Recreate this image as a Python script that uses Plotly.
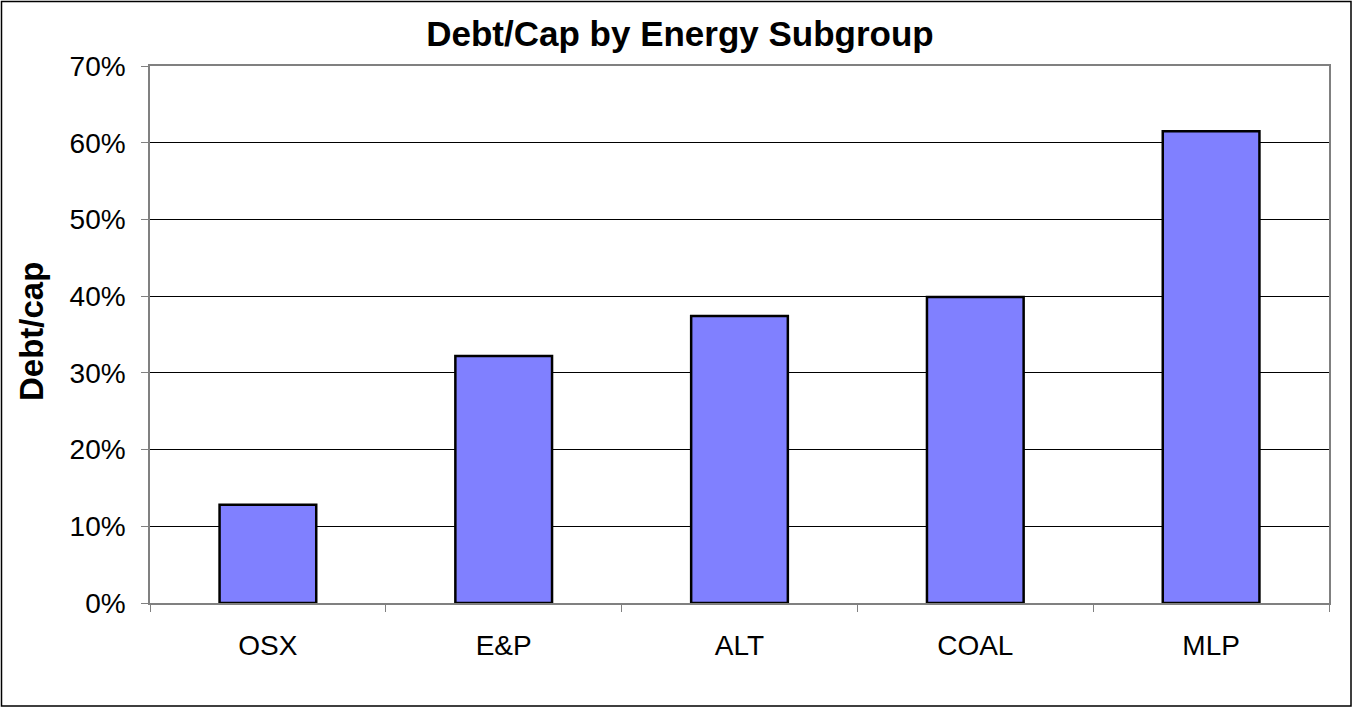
import plotly.graph_objects as go

categories = ["OSX", "E&P", "ALT", "COAL", "MLP"]
debt_cap = [0.128, 0.322, 0.374, 0.399, 0.615]
y_ticks = [0, 0.1, 0.2, 0.3, 0.4, 0.5, 0.6, 0.7]
y_tick_labels = ["0%", "10%", "20%", "30%", "40%", "50%", "60%", "70%"]

W, H = 1354, 708
L, R, T, B = 150, 25, 66, 105
pw, ph = W - L - R, H - T - B

def px_x(x):
    return (x - L) / pw

def px_y(y):
    return (H - B - y) / ph

fig = go.Figure()
fig.add_trace(go.Bar(
    x=categories, y=debt_cap,
    marker=dict(color="#8080FF", line=dict(color="#000000", width=2.5)),
    width=0.41,
))

font = "Liberation Sans, Arial, sans-serif"
fig.update_layout(
    width=W, height=H,
    margin=dict(l=L, r=R, t=T, b=B, autoexpand=False),
    paper_bgcolor="white", plot_bgcolor="white",
    showlegend=False,
    font=dict(family=font, color="black", size=28),
    title=dict(text="<b>Debt/Cap by Energy Subgroup</b>", xref="container", x=680 / W, xanchor="center",
               yref="container", y=1 - 34 / H, yanchor="middle",
               font=dict(size=35, family=font, color="black")),
    xaxis=dict(
        tickson="boundaries", ticks="outside", ticklen=7, tickcolor="#808080",
        showline=True, linecolor="#808080", linewidth=1.5, mirror=True,
        showgrid=False, tickfont=dict(size=28), ticklabelstandoff=17,
        range=[-0.5, 4.5],
    ),
    yaxis=dict(
        range=[0, 0.7], tickvals=y_ticks, ticktext=y_tick_labels,
        ticks="outside", ticklen=7, tickcolor="#808080",
        showline=True, linecolor="#808080", linewidth=1.5, mirror=True,
        showgrid=True, gridcolor="#000000", gridwidth=1, zeroline=False,
        tickfont=dict(size=28), ticklabelstandoff=10,
    ),
    annotations=[dict(
        text="<b>Debt/cap</b>", textangle=-90, xref="paper", yref="paper",
        x=px_x(31), y=px_y(332), xanchor="center", yanchor="middle",
        showarrow=False, font=dict(size=33, family=font, color="black"),
    )],
    shapes=[dict(
        type="rect", xref="paper", yref="paper",
        x0=px_x(1.5), x1=px_x(1351), y0=px_y(706), y1=px_y(1.5),
        line=dict(color="black", width=1.5), fillcolor="rgba(0,0,0,0)", layer="below",
    )],
)

fig.write_html("out.html", config={"displayModeBar": False},
               post_script="document.body.style.margin='0';document.body.style.overflow='hidden';")
